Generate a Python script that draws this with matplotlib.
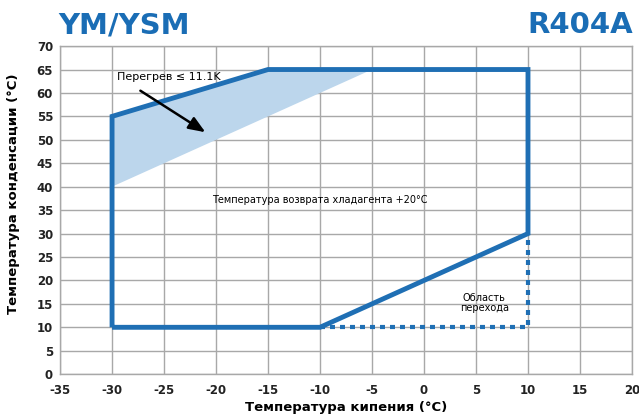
import matplotlib
matplotlib.use("Agg")
import matplotlib.pyplot as plt

plt.rcParams["axes.unicode_minus"] = False

# Envelope (evaporating temp, condensing temp)
env_x = [-30, -30, -15, 10, 10, -10, -30]
env_y = [10, 55, 65, 65, 30, 10, 10]
# Transition area (dotted)
trans_x = [-10, 10, 10]
trans_y = [10, 10, 30]
# Superheat shaded region
shade_poly_x = [-30, -30, -15, -5, -30]
shade_poly_y = [40, 55, 65, 65, 40]

xticks = list(range(-35, 21, 5))
yticks = list(range(0, 71, 5))

blue = "#1f6fb4"
fig = plt.figure(figsize=(6.39, 4.19), dpi=100)
ax = fig.add_axes([0.094, 0.107, 0.895, 0.783])
ax.set_xlim(-35, 20)
ax.set_ylim(0, 70)
ax.set_xticks(xticks)
ax.set_yticks(yticks)
ax.grid(True, color="#a8a8a8", linewidth=1.0)
ax.set_axisbelow(True)
for s in ax.spines.values():
    s.set_color("#a8a8a8")
    s.set_linewidth(1.0)
ax.tick_params(length=0, labelsize=8.5)
ax.tick_params(axis="x", pad=7)
ax.tick_params(axis="y", pad=5)
for lab in ax.get_xticklabels() + ax.get_yticklabels():
    lab.set_fontweight("bold")
    lab.set_color("#222222")

ax.fill(shade_poly_x, shade_poly_y, color="#bcd6ec", lw=0, zorder=2)
ax.plot(env_x, env_y, color=blue, lw=3.5, solid_capstyle="butt", solid_joinstyle="miter", zorder=3)
ax.plot(trans_x, trans_y, color=blue, lw=3, linestyle=(0, (1.2, 1.2)), zorder=4)

ax.annotate("", xy=(-20.8, 51.3), xytext=(-27.5, 60.8),
            arrowprops=dict(arrowstyle="-|>,head_length=1.0,head_width=0.4", color="black", lw=1.8),
            zorder=5)
ax.text(-24.5, 63.5, "Перегрев ≤ 11.1K", fontsize=8, ha="center", va="center", zorder=6)
ax.text(-10, 37.2, "Температура возврата хладагента +20°C", fontsize=7, ha="center", va="center")
ax.text(5.8, 15.2, "Область\nперехода", fontsize=7, ha="center", va="center", linespacing=0.95)

ax.set_xlabel("Температура кипения (°C)", fontsize=9.5, fontweight="bold", labelpad=3)
ax.set_ylabel("Температура конденсации (°C)", fontsize=9.5, fontweight="bold")
ax.yaxis.set_label_coords(-0.07, 0.55)

fig.text(0.092, 0.94, "YM/YSM", fontsize=21, fontweight="bold", color="#1a6db5", ha="left", va="center")
fig.text(0.99, 0.94, "R404A", fontsize=21, fontweight="bold", color="#1a6db5", ha="right", va="center")

fig.savefig("out.png", dpi=100)
